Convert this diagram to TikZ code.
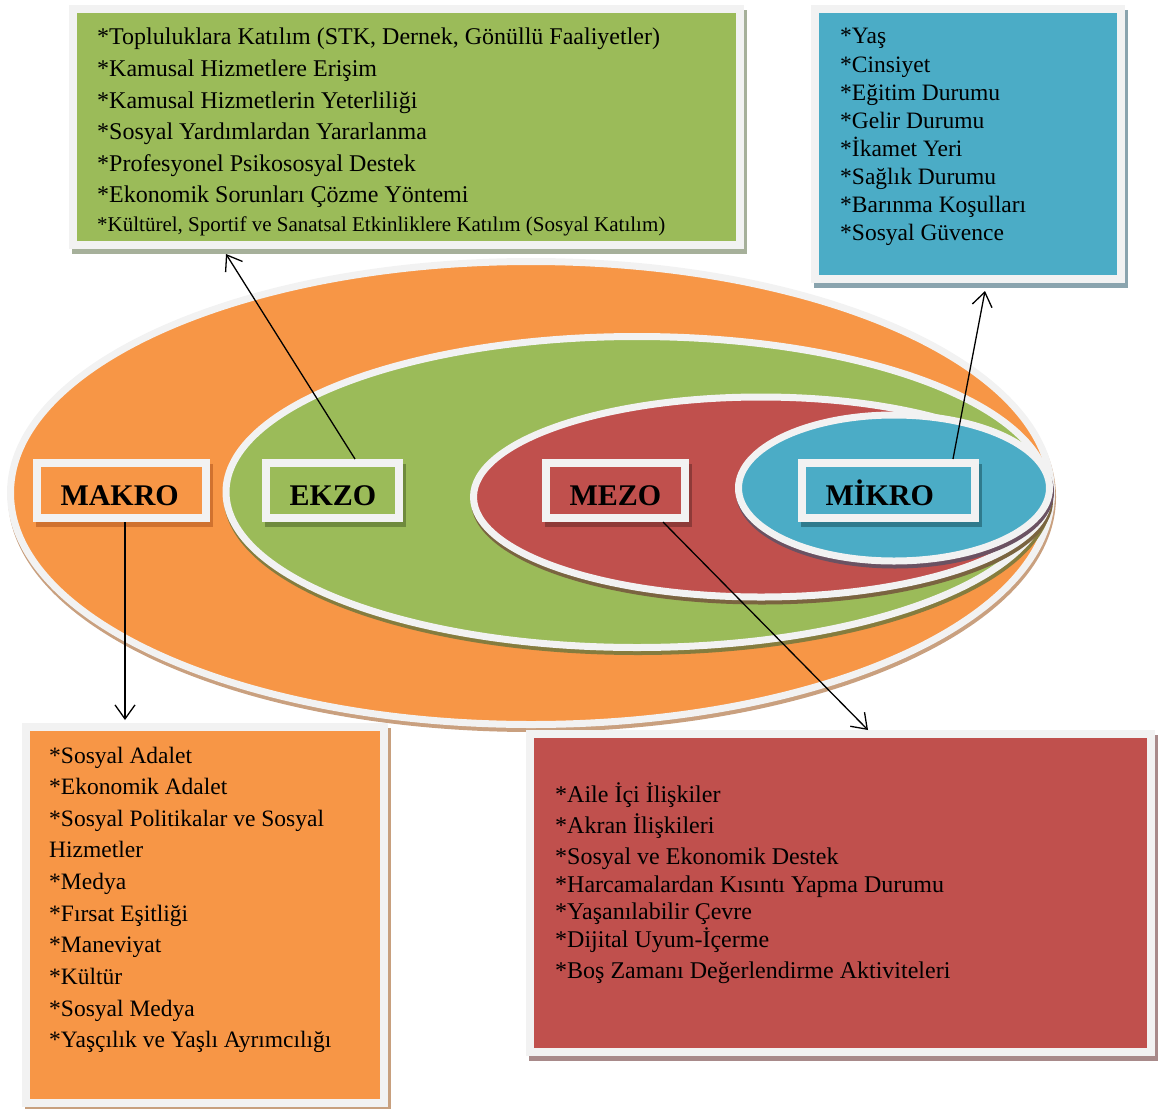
\documentclass[tikz,border=0pt]{standalone}
\usepackage{fontspec}
\setmainfont{Liberation Serif}
\usetikzlibrary{shapes.geometric,shadows,arrows.meta}
\definecolor{makroc}{HTML}{F79646}
\definecolor{ekzoc}{HTML}{9BBB59}
\definecolor{mezoc}{HTML}{C0504D}
\definecolor{mikroc}{HTML}{4BACC6}
\definecolor{framec}{HTML}{F2F2F2}
\definecolor{makrosh}{HTML}{C9A07F}
\definecolor{ekzosh}{HTML}{857C3E}
\definecolor{mezosh}{HTML}{7A6440}
\definecolor{mikrosh}{HTML}{6B5262}
\definecolor{makrolsh}{HTML}{D0722F}
\definecolor{ekzolsh}{HTML}{6F8A3D}
\definecolor{mezolsh}{HTML}{8E3A38}
\definecolor{mikrolsh}{HTML}{2F7A8C}
\definecolor{makrobsh}{HTML}{C8A07E}
\definecolor{ekzobsh}{HTML}{A6B09A}
\definecolor{mezobsh}{HTML}{A88A8A}
\definecolor{mikrobsh}{HTML}{8AA4AE}
\begin{document}
\begin{tikzpicture}[x=1pt, y=-1pt,
    ring/.style 2 args={ellipse, fill=#1, draw=framec, line width=7pt,
        drop shadow={shadow xshift=1pt, shadow yshift=-4pt, fill=#2,
        draw=#2, line width=7pt, opacity=1}},
    lbl/.style 2 args={rectangle, fill=#1, draw=framec, line width=8pt,
        minimum height=55pt, inner xsep=23.5pt, inner ysep=0pt, align=left,
        text height=29pt, text depth=0pt,
        font=\fontsize{30}{30}\selectfont\bfseries,
        drop shadow={shadow xshift=3pt, shadow yshift=-5pt, fill=#2,
        draw=#2, line width=8pt, opacity=1}},
    listbox/.style 2 args={rectangle, fill=#1, draw=framec, line width=8pt,
        inner sep=0pt, drop shadow={shadow xshift=3pt, shadow yshift=-5pt,
        fill=#2, draw=#2, line width=8pt, opacity=1}},
    item/.style={anchor=base west, inner sep=0pt,
        font=\fontsize{24}{28}\selectfont},
    arr/.style={line width=1.3pt, -{Straight Barb[length=14pt, width=20pt]}}]
\useasboundingbox (0,0) rectangle (1158,1108);

% nested levels
\node[ring={makroc}{makrosh}, minimum width=1041pt, minimum height=463pt]
    (makroring) at (531,493) {};
\node[ring={ekzoc}{ekzosh}, minimum width=822pt, minimum height=311pt]
    (ekzoring) at (637,492) {};
\node[ring={mezoc}{mezosh}, minimum width=575pt, minimum height=200pt]
    (mezoring) at (761,497) {};
\node[ring={mikroc}{mikrosh}, minimum width=311pt, minimum height=146pt]
    (mikroring) at (894,488) {};

% level labels
\node[lbl={makroc}{makrolsh}, text width=122pt] (makro) at (121.5,490.5) {MAKRO};
\node[lbl={ekzoc}{ekzolsh}, text width=86pt] (ekzo) at (332.5,490.5) {EKZO};
\node[lbl={mezoc}{mezolsh}, text width=92pt] (mezo) at (615.5,490.5) {MEZO};
\node[lbl={mikroc}{mikrolsh}, text width=126pt] (mikro) at (888.5,490.5) {MİKRO};

% ekzo list
\node[listbox={ekzoc}{ekzobsh}, minimum width=667pt, minimum height=236pt]
    (ekzolist) at (406.5,127) {};
\foreach \t [count=\i] in {{*Topluluklara Katılım (STK, Dernek, Gönüllü Faaliyetler)},
    *Kamusal Hizmetlere Erişim, *Kamusal Hizmetlerin Yeterliliği,
    *Sosyal Yardımlardan Yararlanma, *Profesyonel Psikososyal Destek,
    *Ekonomik Sorunları Çözme Yöntemi}
    \node[item] (ekzo\i) at (97,{45+31.5*(\i-1)}) {\t};
\node[item, font=\fontsize{21}{24}\selectfont] (ekzo7) at (97,231)
    {*Kültürel, Sportif ve Sanatsal Etkinliklere Katılım (Sosyal Katılım)};

% mikro list
\node[listbox={mikroc}{mikrobsh}, minimum width=306pt, minimum height=270pt]
    (mikrolist) at (968,144) {};
\foreach \t [count=\i] in {*Yaş, *Cinsiyet, *Eğitim Durumu, *Gelir Durumu,
    *İkamet Yeri, *Sağlık Durumu, *Barınma Koşulları, *Sosyal Güvence}
    \node[item, font=\fontsize{23.5}{28}\selectfont] (mikro\i)
        at (840,{44+28.1*(\i-1)}) {\t};

% makro list
\node[listbox={makroc}{makrobsh}, minimum width=358pt, minimum height=376pt]
    (makrolist) at (205,915) {};
\foreach \t [count=\i] in {*Sosyal Adalet, *Ekonomik Adalet,
    *Sosyal Politikalar ve Sosyal, Hizmetler, *Medya, *Fırsat Eşitliği,
    *Maneviyat, *Kültür, *Sosyal Medya, *Yaşçılık ve Yaşlı Ayrımcılığı}
    \node[item, font=\fontsize{23.5}{28}\selectfont] (makro\i)
        at (49,{763+31.65*(\i-1)}) {\t};

% mezo list
\node[listbox={mezoc}{mezobsh}, minimum width=621pt, minimum height=318pt]
    (mezolist) at (840.5,893) {};
\foreach \t/\b [count=\i] in {*Aile İçi İlişkiler/802, *Akran İlişkileri/833,
    *Sosyal ve Ekonomik Destek/864, *Harcamalardan Kısıntı Yapma Durumu/892,
    *Yaşanılabilir Çevre/919, *Dijital Uyum-İçerme/947,
    *Boş Zamanı Değerlendirme Aktiviteleri/978}
    \node[item] (mezo\i) at (555,\b) {\t};

% links
\draw[arr] ([xshift=3.5pt]makro.south) -- ([xshift=-80pt,yshift=3pt]makrolist.north);
\draw[arr] ([xshift=22.5pt]ekzo.north) -- ([xshift=-180.5pt,yshift=-5pt]ekzolist.south);
\draw[arr] ([xshift=47.5pt]mezo.south) -- ([xshift=27.5pt]mezolist.north);
\draw[arr] ([xshift=64.5pt]mikro.north) -- ([xshift=17pt,yshift=-8pt]mikrolist.south);
\end{tikzpicture}
\end{document}
